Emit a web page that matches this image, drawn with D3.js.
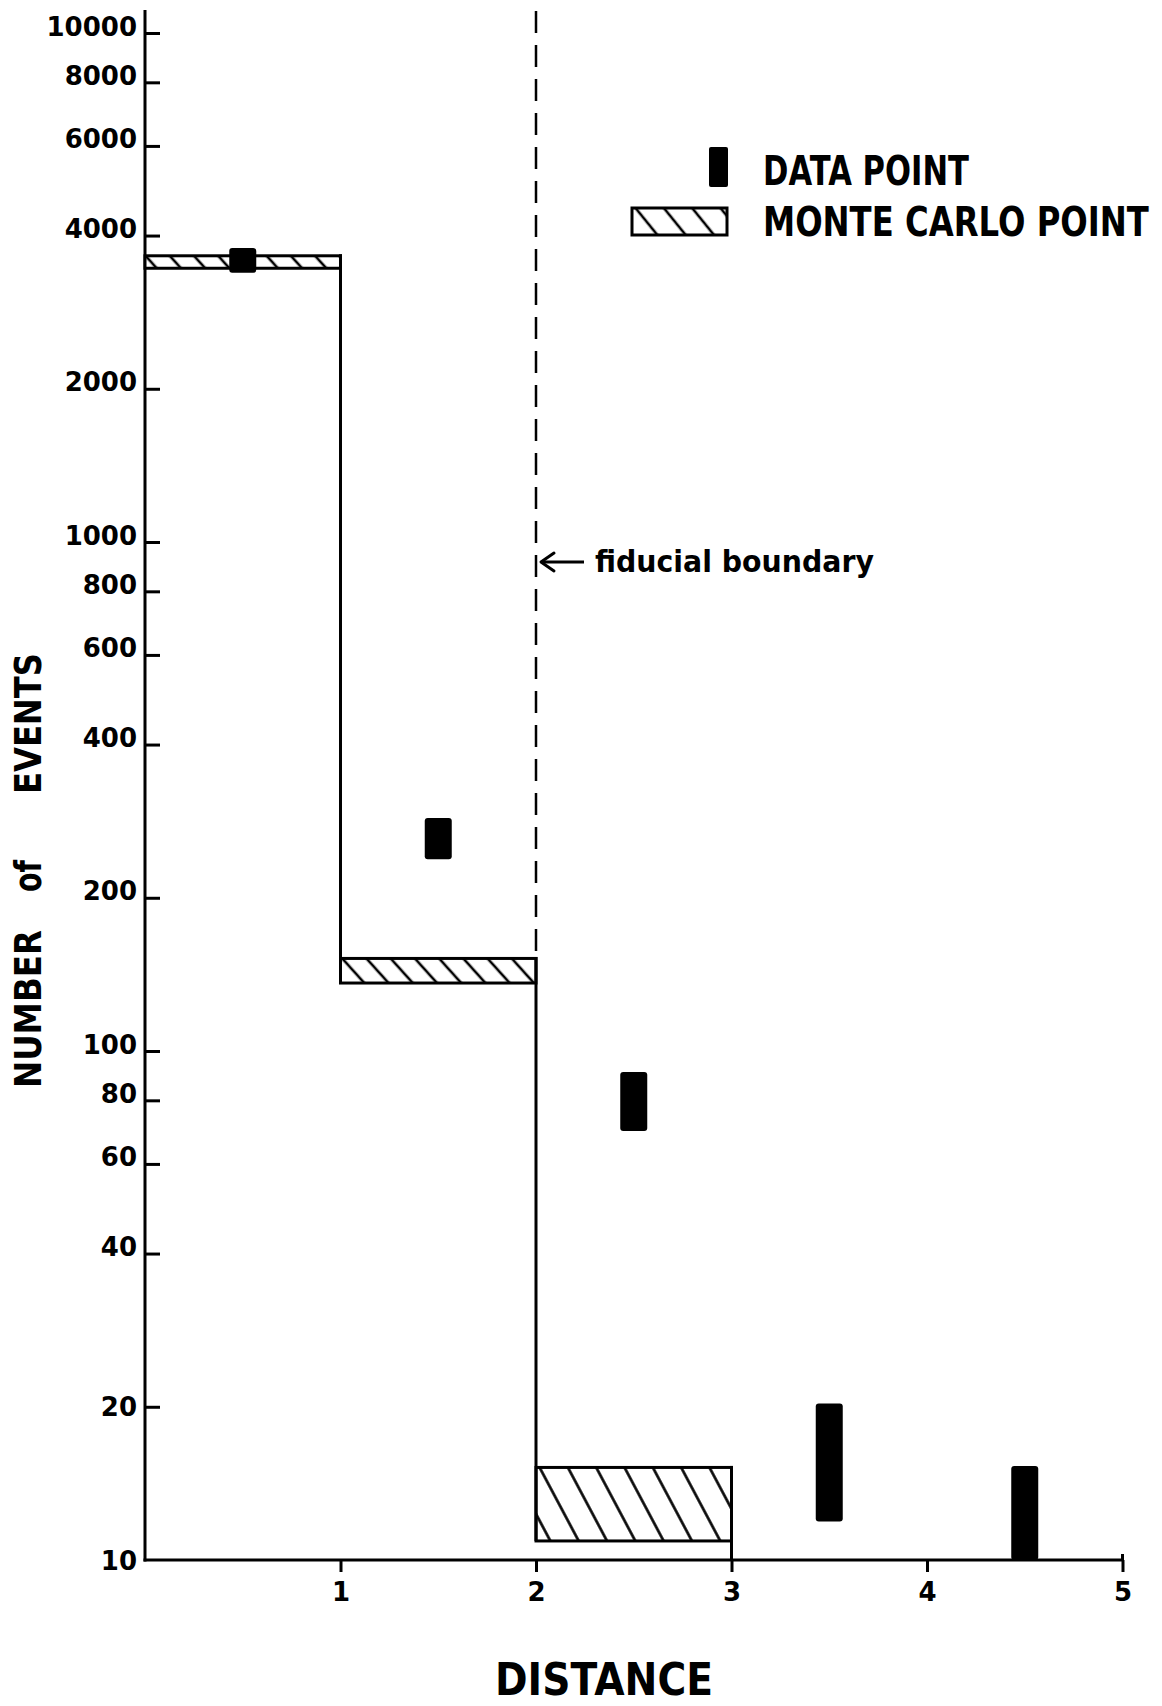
<!DOCTYPE html>
<html>
<head>
<meta charset="utf-8">
<script src="https://cdn.jsdelivr.net/npm/d3@7"></script>
<style>
  html, body { margin: 0; padding: 0; background: #fff; }
  svg { display: block; }
  text { font-family: "DejaVu Sans", "Liberation Sans", sans-serif; fill: #000; font-weight: bold; }
</style>
</head>
<body>
<svg id="chart" width="1162" height="1706"></svg>
<script>
// Distance bins
const binStart = [0, 1, 2, 3, 4];
const binEnd   = [1, 2, 3, 4, 5];
// Monte Carlo expectation band per bin (null where no prediction is drawn)
const mcLow  = [3450, 136, 10.9, null, null];
const mcHigh = [3650, 152, 15.2, null, null];
// Measured number of events per bin (error range)
const dataLow  = [3380, 238, 69.6, 11.9, 10];
const dataHigh = [3780, 287, 90.9, 20.3, 15.3];
// Axis ticks
const yTickValues = [10, 20, 40, 60, 80, 100, 200, 400, 600, 800, 1000, 2000, 4000, 6000, 8000, 10000];
const xTickValues = [1, 2, 3, 4, 5];
const fiducialBoundary = 2;

const svg = d3.select("#chart");
const x = d3.scaleLinear().domain([0, 5]).range([145, 1122.5]);
const y = d3.scaleLog().domain([10, 10000]).range([1560, 33]);

// Lettering squeezed horizontally to a given width
function fitText(parent, str, px, py, size, width, anchor) {
  const t = parent.append("text")
    .attr("font-size", size)
    .attr("text-anchor", anchor || "start")
    .text(str);
  const natural = t.node().getComputedTextLength();
  t.attr("transform", `translate(${px},${py}) scale(${width / natural},1)`);
  return t;
}

// Hatch fills
const defs = svg.append("defs");
function hatch(id, spacing, angle, width) {
  const p = defs.append("pattern")
    .attr("id", id)
    .attr("patternUnits", "userSpaceOnUse")
    .attr("width", spacing).attr("height", spacing)
    .attr("patternTransform", `rotate(${angle})`);
  p.append("rect").attr("width", spacing).attr("height", spacing).attr("fill", "#fff");
  p.append("line")
    .attr("x1", spacing / 2).attr("x2", spacing / 2)
    .attr("y1", -1).attr("y2", spacing + 1)
    .attr("stroke", "#000").attr("stroke-width", width);
}
hatch("hatchFine", 18, -42, 2.6);
hatch("hatchWide", 25, -28, 2.6);
hatch("hatchLegend", 22, -39, 2.6);

// Axes
const yAxis = d3.axisLeft(y)
  .tickValues(yTickValues)
  .tickFormat(d3.format("d"))
  .tickSizeInner(-15)
  .tickSizeOuter(0)
  .tickPadding(8);
const gy = svg.append("g").attr("transform", `translate(${x(0)},0)`).call(yAxis);
gy.select(".domain").remove();
gy.selectAll(".tick line").attr("stroke", "#000").attr("stroke-width", 3);
gy.selectAll(".tick text")
  .attr("font-size", 26)
  .attr("font-family", null)
  .attr("dy", d => d <= 20 ? "0.35em" : "2px");
gy.selectAll(".tick").filter(d => d === 10).select("line").remove();

const xAxis = d3.axisBottom(x)
  .tickValues(xTickValues)
  .tickFormat(d3.format("d"))
  .tickSizeInner(12)
  .tickSizeOuter(0)
  .tickPadding(11);
const gx = svg.append("g").attr("transform", `translate(0,${y(10)})`).call(xAxis);
gx.select(".domain").remove();
gx.selectAll(".tick line").attr("stroke", "#000").attr("stroke-width", 3);
gx.selectAll(".tick text").attr("font-size", 26).attr("font-family", null);

// Axis lines
svg.append("line")
  .attr("x1", x(0)).attr("x2", x(0))
  .attr("y1", 10).attr("y2", y(10) + 1.5)
  .attr("stroke", "#000").attr("stroke-width", 3);
svg.append("line")
  .attr("x1", x(0) - 1.5).attr("x2", x(5))
  .attr("y1", y(10)).attr("y2", y(10))
  .attr("stroke", "#000").attr("stroke-width", 3);
svg.append("line")
  .attr("x1", x(5)).attr("x2", x(5))
  .attr("y1", y(10) - 6).attr("y2", y(10))
  .attr("stroke", "#000").attr("stroke-width", 3);

// Monte Carlo histogram bands
const mcBins = binStart.map((s, i) => ({ s, e: binEnd[i], lo: mcLow[i], hi: mcHigh[i], i }))
  .filter(d => d.lo != null);

svg.append("g").selectAll("rect")
  .data(mcBins)
  .join("rect")
  .attr("x", d => x(d.s))
  .attr("y", d => y(d.hi))
  .attr("width", d => x(d.e) - x(d.s))
  .attr("height", d => y(d.lo) - y(d.hi))
  .attr("fill", d => (y(d.lo) - y(d.hi)) > 40 ? "url(#hatchWide)" : "url(#hatchFine)")
  .attr("stroke", "#000")
  .attr("stroke-width", 3);

// Histogram steps joining neighbouring bins
const steps = mcBins.map(d => {
  const next = mcLow[d.i + 1] != null ? { lo: mcLow[d.i + 1], hi: mcHigh[d.i + 1] } : null;
  const top = next ? Math.min(y(d.hi), y(next.hi)) : y(d.hi);
  const bottom = next ? Math.max(y(d.lo), y(next.lo)) : y(10);
  return { xv: d.e, top, bottom };
});
svg.append("g").selectAll("line")
  .data(steps)
  .join("line")
  .attr("x1", d => x(d.xv)).attr("x2", d => x(d.xv))
  .attr("y1", d => d.top - 1.5).attr("y2", d => d.bottom)
  .attr("stroke", "#000").attr("stroke-width", 3);

// Fiducial boundary
const fiducialTop = Math.min(y(mcHigh[1]), y(mcHigh[2]));
svg.append("line")
  .attr("x1", x(fiducialBoundary)).attr("x2", x(fiducialBoundary))
  .attr("y1", 11).attr("y2", fiducialTop)
  .attr("stroke", "#000").attr("stroke-width", 2.5)
  .attr("stroke-dasharray", "22,12");

const arrowY = 562;
svg.append("line")
  .attr("x1", x(fiducialBoundary) + 6).attr("x2", x(fiducialBoundary) + 48)
  .attr("y1", arrowY).attr("y2", arrowY)
  .attr("stroke", "#000").attr("stroke-width", 3);
svg.append("path")
  .attr("d", `M${x(fiducialBoundary) + 18},${arrowY - 9} L${x(fiducialBoundary) + 5},${arrowY} L${x(fiducialBoundary) + 18},${arrowY + 9}`)
  .attr("fill", "none").attr("stroke", "#000").attr("stroke-width", 3)
  .attr("stroke-linejoin", "round").attr("stroke-linecap", "round");
fitText(svg, "fiducial boundary", 595, 572, 30, 279);

// Measured data points
const dataPts = binStart.map((s, i) => ({ c: (s + binEnd[i]) / 2, lo: dataLow[i], hi: dataHigh[i] }));
const barW = 27;
svg.append("g").selectAll("rect")
  .data(dataPts)
  .join("rect")
  .attr("x", d => x(d.c) - barW / 2)
  .attr("y", d => y(d.hi))
  .attr("width", barW)
  .attr("height", d => y(d.lo) - y(d.hi))
  .attr("rx", 3)
  .attr("fill", "#000");

// Legend
svg.append("rect")
  .attr("x", 709).attr("y", 147).attr("width", 19).attr("height", 40)
  .attr("rx", 2).attr("fill", "#000");
fitText(svg, "DATA POINT", 763, 185, 40, 206);
svg.append("rect")
  .attr("x", 632).attr("y", 208).attr("width", 95).attr("height", 27)
  .attr("fill", "url(#hatchLegend)").attr("stroke", "#000").attr("stroke-width", 3);
fitText(svg, "MONTE CARLO POINT", 763, 236, 40, 386);

// Axis titles
fitText(svg, "DISTANCE", 604, 1695, 45, 218, "middle");

const yTitle = svg.append("g").attr("transform", "translate(41,0) rotate(-90)");
[["NUMBER", 930, 1088], ["of", 860, 892], ["EVENTS", 653, 794]].forEach(([t, a, b]) => {
  fitText(yTitle, t, -b, 0, 38, b - a);
});
</script>
</body>
</html>
